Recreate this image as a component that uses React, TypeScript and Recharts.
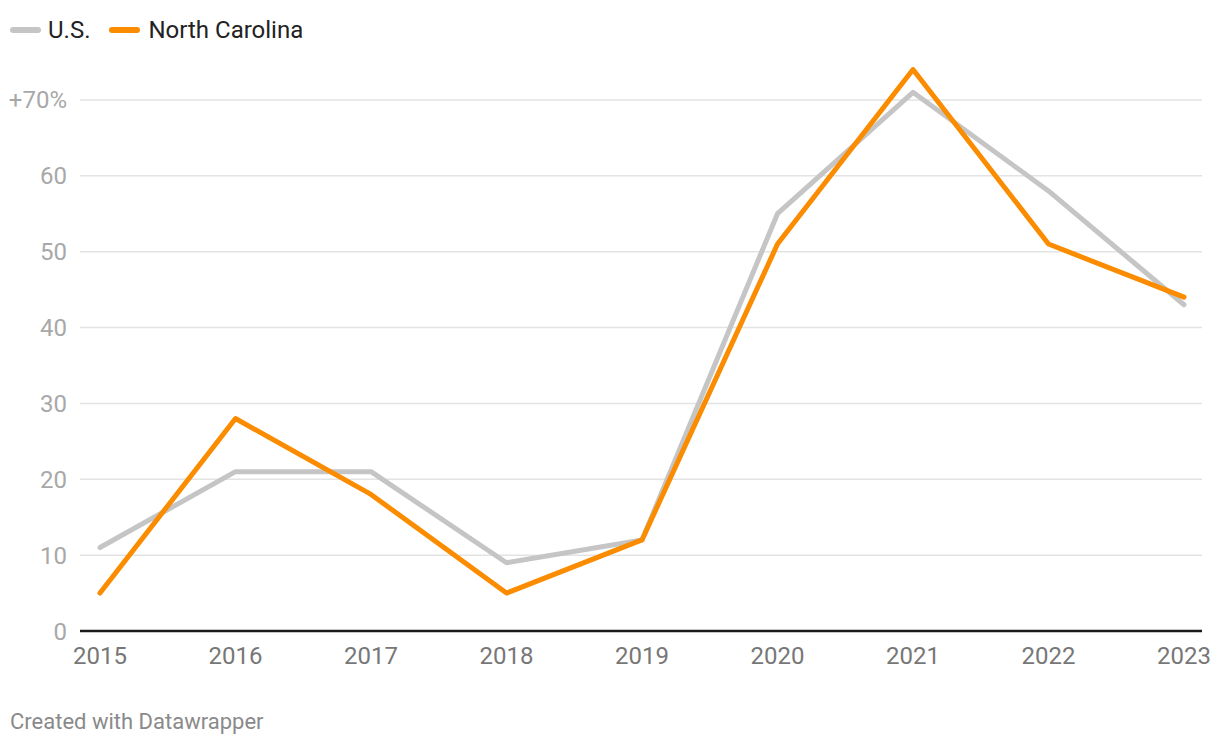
import React from "react";
import { LineChart, Line, XAxis, YAxis, CartesianGrid } from "recharts";

const years = ["2015", "2016", "2017", "2018", "2019", "2020", "2021", "2022", "2023"];
const usValues = [11, 21, 21, 9, 12, 55, 71, 58, 43];
const ncValues = [5, 28, 18, 5, 12, 51, 74, 51, 44];
const yTicks = [0, 10, 20, 30, 40, 50, 60, 70];

const data = years.map((y, i) => ({ year: y, us: usValues[i], nc: ncValues[i] }));

const FONT = "Roboto, 'Noto Sans', sans-serif";
const GRAY = "#c5c5c5";
const ORANGE = "#fb8c00";

export default function App() {
  return (
    <div style={{ position: "absolute", left: 0, top: 0, width: 1220, height: 748, background: "#fff", fontFamily: FONT }}>
      <LineChart width={1220} height={748} data={data} margin={{ top: 24, right: 18, left: 0, bottom: 87 }}>
        <CartesianGrid vertical={false} stroke="#e3e3e3" strokeWidth={1.5} syncWithTicks />
        <XAxis
          dataKey="year"
          padding={{ left: 20, right: 18 }}
          axisLine={{ stroke: "#1a1a1a", strokeWidth: 2.5 }}
          tickLine={false}
          tickSize={0}
          tickMargin={16}
          height={30}
          interval={0}
          tick={{ fill: "#777", fontSize: 24, fontFamily: FONT }}
        />
        <YAxis
          domain={[0, 80]}
          ticks={yTicks}
          width={80}
          axisLine={false}
          tickLine={false}
          tickSize={0}
          tickMargin={13}
          tick={{ fill: "#a8a8a8", fontSize: 24, fontFamily: FONT }}
          tickFormatter={(v: number) => (v === 70 ? "+70%" : String(v))}
        />
        <Line type="linear" dataKey="us" stroke={GRAY} strokeWidth={5} dot={false} isAnimationActive={false} strokeLinecap="round" strokeLinejoin="round" />
        <Line type="linear" dataKey="nc" stroke={ORANGE} strokeWidth={5} dot={false} isAnimationActive={false} strokeLinecap="round" strokeLinejoin="round" />
      </LineChart>
      <div style={{ position: "absolute", left: 10, top: 15, display: "flex", alignItems: "center", fontSize: 24, color: "#222", lineHeight: "30px" }}>
        <span style={{ display: "inline-block", width: 31, height: 6, borderRadius: 3, background: GRAY, marginRight: 7 }} />
        <span style={{ marginRight: 19 }}>U.S.</span>
        <span style={{ display: "inline-block", width: 31, height: 6, borderRadius: 3, background: ORANGE, marginRight: 8 }} />
        <span>North Carolina</span>
      </div>
      <div style={{ position: "absolute", left: 10, top: 708, fontSize: 22, color: "#8a8a8a", lineHeight: "28px" }}>Created with Datawrapper</div>
    </div>
  );
}
